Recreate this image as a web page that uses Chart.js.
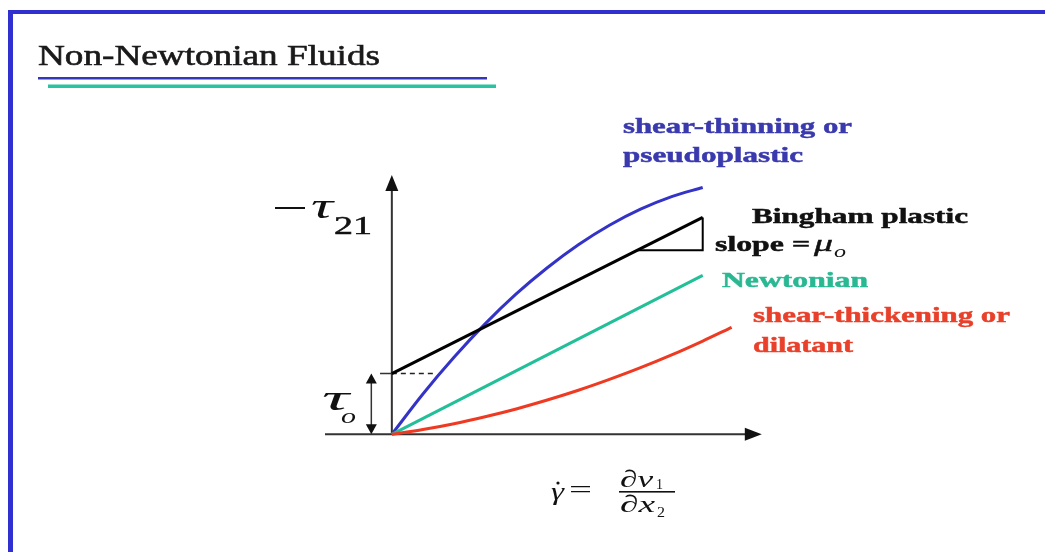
<!DOCTYPE html>
<html>
<head>
<meta charset="utf-8">
<title>Non-Newtonian Fluids</title>
<script src="https://cdn.jsdelivr.net/npm/chart.js@4/dist/chart.umd.min.js"></script>
<style>
    html, body { margin: 0; padding: 0; background: #fff; }
    #wrap { width: 1045px; height: 552px; position: relative; }
</style>
</head>
<body>
<div id="wrap"><canvas id="fluidChart"></canvas></div>
<script>
// --- Shear rate samples (x) and shear stress (y) for each fluid ---
const shearRate = [0, 1, 2, 3, 4, 5, 6, 7, 8, 9, 10];
const pseudoplasticStress = [0, 1.86, 3.55, 5.09, 6.47, 7.68, 8.74, 9.64, 10.38, 10.96, 11.38];

const newtonianRate = [0, 10];
const newtonianStress = [0, 7.33];

const dilatantRate = [0, 1, 2, 3, 4, 5, 6, 7, 8, 9, 10, 10.93];
const dilatantStress = [0, 0.22, 0.49, 0.81, 1.17, 1.58, 2.03, 2.53, 3.07, 3.66, 4.3, 4.93];

const binghamRate = [0, 10];
const binghamStress = [2.8, 10];
const yieldStress = 2.8;

// slope triangle under the end of the Bingham line
const slopeRate = [7.89, 10, 10];
const slopeStress = [8.48, 8.48, 10];

// yield stress guide
const yieldGuideRate = [0, 1.32];

// --- Colors ---
const BLUE = "#3333c8";
const TEAL = "#22bf98";
const RED = "#ee3a22";
const INK = "#111";

const toPoints = (xs, ys) => xs.map((x, i) => ({ x, y: ys[i] }));

// stretch text horizontally so it spans a given width (heavy = extra outline)
function fitText(ctx, text, x, y, width, font, color, heavy) {
    ctx.save();
    ctx.font = font;
    const w = ctx.measureText(text).width;
    ctx.translate(x, y);
    ctx.scale(width / w, 1);
    ctx.fillStyle = color;
    ctx.textBaseline = "alphabetic";
    ctx.fillText(text, 0, 0);
    if (heavy) {
        ctx.strokeStyle = color;
        ctx.lineWidth = heavy;
        ctx.strokeText(text, 0, 0);
    }
    ctx.restore();
}

function arrowHead(ctx, tipX, tipY, dirX, dirY, len, half) {
    const bx = tipX - dirX * len, by = tipY - dirY * len;
    ctx.beginPath();
    ctx.moveTo(tipX, tipY);
    ctx.lineTo(bx - dirY * half, by + dirX * half);
    ctx.lineTo(bx + dirY * half, by - dirX * half);
    ctx.closePath();
    ctx.fill();
}

const SERIF = '"Liberation Serif", "Times New Roman", serif';

// --- Slide frame, title and axes ---
const slidePlugin = {
    id: "slide",
    beforeDraw(chart) {
        const { ctx, width, height } = chart;
        ctx.save();
        ctx.fillStyle = "#fff";
        ctx.fillRect(0, 0, width, height);

        // frame
        ctx.fillStyle = "#3030d0";
        ctx.fillRect(8, 10, width - 8, 4);
        ctx.fillRect(8, 10, 5, height - 10);

        // title + double underline
        fitText(ctx, "Non-Newtonian Fluids", 38, 65, 342, "30px " + SERIF, "#1a1a1a", 0.6);
        ctx.fillStyle = "#3636b8";
        ctx.fillRect(38, 77, 449, 2.5);
        ctx.fillStyle = "#26c4a0";
        ctx.fillRect(48, 84.5, 448, 3.5);
        ctx.restore();
    },
    beforeDatasetsDraw(chart) {
        const { ctx, scales: { x, y } } = chart;
        const x0 = x.getPixelForValue(0), y0 = y.getPixelForValue(0);
        const xEnd = x.getPixelForValue(11.9), yEnd = y.getPixelForValue(11.95);
        ctx.save();
        ctx.strokeStyle = "#333";
        ctx.fillStyle = "#111";
        ctx.lineWidth = 2;
        ctx.beginPath();
        ctx.moveTo(x.getPixelForValue(-2.15), y0);
        ctx.lineTo(xEnd - 10, y0);
        ctx.moveTo(x0, y0);
        ctx.lineTo(x0, yEnd + 10);
        ctx.stroke();
        arrowHead(ctx, xEnd, y0, 1, 0, 17, 6.5);
        arrowHead(ctx, x0, yEnd, 0, -1, 16, 6.5);

        // yield stress marker: tick and double arrow
        const yt = y.getPixelForValue(yieldStress);
        const xa = x.getPixelForValue(-0.66);
        ctx.lineWidth = 1.5;
        ctx.beginPath();
        ctx.moveTo(x.getPixelForValue(-0.38), yt);
        ctx.lineTo(x0, yt);
        ctx.moveTo(xa, yt + 6);
        ctx.lineTo(xa, y0 - 6);
        ctx.stroke();
        arrowHead(ctx, xa, yt, 0, -1, 10, 5.5);
        arrowHead(ctx, xa, y0, 0, 1, 10, 5.5);
        ctx.restore();
    },
    afterDraw(chart) {
        const { ctx } = chart;
        ctx.save();

        // curve labels
        const bold = "bold 22px " + SERIF;
        fitText(ctx, "shear-thinning or", 623, 133, 229, bold, "#3a3aae", 0.5);
        fitText(ctx, "pseudoplastic", 623, 162, 180, bold, "#3a3aae", 0.5);
        fitText(ctx, "Bingham plastic", 752, 223, 216, bold, INK, 0.5);
        fitText(ctx, "slope =", 715, 251, 95, bold, INK, 0.5);
        fitText(ctx, "μ", 814, 251, 19, "italic 24px " + SERIF, INK, 0.4);
        fitText(ctx, "o", 834, 257, 12, "italic 16px " + SERIF, INK);
        fitText(ctx, "Newtonian", 722, 287, 146, bold, "#2ab893", 0.5);
        fitText(ctx, "shear-thickening or", 753, 322, 257, bold, "#e8402a", 0.5);
        fitText(ctx, "dilatant", 753, 352, 100, bold, "#e8402a", 0.5);

        // −τ21 axis label
        ctx.fillStyle = INK;
        ctx.fillRect(275, 207, 30, 2);
        fitText(ctx, "τ", 311, 218, 22, "italic 36px " + SERIF, INK);
        fitText(ctx, "21", 334, 234, 38, "25px " + SERIF, INK, 0.5);

        // τo yield stress label
        fitText(ctx, "τ", 322, 410, 27, "italic 36px " + SERIF, INK);
        fitText(ctx, "o", 341, 423, 15, "italic 22px " + SERIF, INK);

        // shear rate definition
        fitText(ctx, "γ", 551, 500, 13, "italic 26px " + SERIF, INK);
        ctx.beginPath();
        ctx.arc(558, 483, 1.6, 0, Math.PI * 2);
        ctx.fill();
        fitText(ctx, "=", 569, 498, 23, "26px " + SERIF, INK);
        ctx.fillRect(619, 491, 56, 1.6);
        fitText(ctx, "∂v", 620, 487, 33, "italic 24px " + SERIF, INK);
        fitText(ctx, "1", 656, 489, 7, "15px " + SERIF, INK);
        fitText(ctx, "∂x", 620, 512, 35, "italic 24px " + SERIF, INK);
        fitText(ctx, "2", 657, 517, 8, "15px " + SERIF, INK);
        ctx.restore();
    }
};

const lineSet = (label, data, color, extra) => Object.assign({
    label,
    data,
    borderColor: color,
    borderWidth: 3,
    pointRadius: 0,
    fill: false,
    tension: 0
}, extra);

new Chart(document.getElementById("fluidChart"), {
    type: "line",
    data: {
        datasets: [
            lineSet("shear-thickening or dilatant", toPoints(dilatantRate, dilatantStress), RED,
                { cubicInterpolationMode: "monotone" }),
            lineSet("Bingham plastic", toPoints(binghamRate, binghamStress), "#000"),
            lineSet("slope", toPoints(slopeRate, slopeStress), "#000", { borderWidth: 2 }),
            lineSet("yield", toPoints(yieldGuideRate, [yieldStress, yieldStress]), "#222",
                { borderWidth: 1.4, borderDash: [5, 4] }),
            lineSet("Newtonian", toPoints(newtonianRate, newtonianStress), TEAL),
            lineSet("shear-thinning or pseudoplastic", toPoints(shearRate, pseudoplasticStress), BLUE,
                { cubicInterpolationMode: "monotone" })
        ]
    },
    options: {
        responsive: true,
        maintainAspectRatio: false,
        animation: false,
        layout: { padding: { left: 325, right: 277, top: 174, bottom: 96 } },
        plugins: {
            legend: { display: false },
            tooltip: { enabled: false },
            title: { display: false }
        },
        scales: {
            x: { type: "linear", min: -2.15, max: 12.1, display: false },
            y: { type: "linear", min: -1, max: 12, display: false }
        }
    },
    plugins: [slidePlugin]
});
</script>
</body>
</html>
